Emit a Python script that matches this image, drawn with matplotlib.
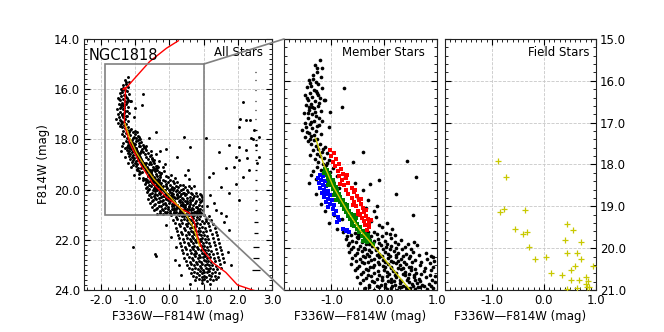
import numpy as np
import matplotlib
matplotlib.use('Agg')
import matplotlib.pyplot as plt
from matplotlib.ticker import MultipleLocator, FormatStrFormatter
from matplotlib.patches import Rectangle, ConnectionPatch

# ---------------- data (colour F336W-F814W, magnitude F814W) ----------------
member_black = [
    (-1.22,15.50),(-1.31,15.62),(-1.18,15.70),(-1.27,15.78),(-1.35,15.85),(-1.20,15.92),(-1.42,15.98),(-1.30,16.02),
    (-1.25,16.08),(-1.38,16.12),(-1.46,16.15),(-1.18,16.18),(-1.33,16.22),(-1.41,16.28),(-1.27,16.30),(-1.50,16.35),
    (-1.36,16.38),(-1.22,16.42),(-1.44,16.45),(-1.31,16.48),(-1.15,16.46),(-1.39,16.55),(-1.48,16.58),(-1.26,16.60),
    (-1.34,16.65),(-1.42,16.70),(-1.20,16.72),(-1.52,16.78),(-1.37,16.80),(-1.29,16.85),(-1.45,16.90),(-1.33,16.95),
    (-1.40,17.02),(-1.24,17.05),(-1.48,17.10),(-1.36,17.12),(-1.55,17.18),(-1.30,17.20),(-1.43,17.25),(-1.20,17.28),
    (-1.38,17.32),(-1.50,17.35),(-1.27,17.38),(-1.34,17.42),(-1.44,17.45),
    (-1.40,16.05),(-1.29,16.25),(-1.47,16.40),(-1.24,16.52),(-1.36,16.62),(-1.45,16.76),(-1.23,16.88),(-1.39,16.98),
    (-1.28,17.08),(-1.46,17.22),(-1.33,17.30),(-1.25,16.35),(-1.43,16.62),(-1.32,16.75),(-1.50,17.00),(-1.18,16.95),
    (-1.41,17.38),(-1.35,15.95),(-1.28,15.70),
    (-0.76,16.18),(-0.81,16.62),(-1.02,16.74),(-1.12,16.46),(-1.05,17.10),
    (-1.22,17.50),(-1.30,17.55),(-1.12,17.58),(-1.25,17.62),(-1.35,17.66),(-1.18,17.70),(-1.08,17.72),(-1.28,17.75),
    (-1.21,17.80),(-1.14,17.84),(-1.32,17.88),(-1.05,17.90),(-1.25,17.93),(-1.17,17.98),(-1.10,18.02),(-1.28,18.05),
    (-0.98,18.08),(-1.20,18.12),(-1.35,18.15),(-1.02,18.18),(-1.38,17.52),(-1.16,17.64),(-1.40,17.78),(-1.08,17.96),
    (-0.59,17.93),(0.44,17.92),(0.60,18.29),(-0.27,18.47),(-0.09,18.37),(0.23,18.71),(-0.14,19.00),(0.55,19.20),(-0.40,17.70),
    (-1.38,18.25),(-1.30,18.35),(-0.75,18.30),(-0.55,18.45),(-1.42,18.45),(-0.85,18.55),(-0.40,18.60),(-1.30,18.70),
    (-0.50,18.80),(-0.30,18.85),(-1.20,18.95),(-0.35,19.05),(-0.20,19.10),(-0.95,19.20),(-0.15,19.25),(-0.25,19.35),
    (-1.05,19.40),(-0.10,19.45),(-0.05,19.50),(0.05,19.40),(-0.62,19.45),(-0.90,19.55),(0.15,19.55),(-0.70,19.60),
    (-0.98,18.40),(-0.90,18.28),(-1.12,19.10),(-0.80,19.30),(-0.60,19.25),
    (-0.78,19.62),(-0.63,19.68),(-0.56,19.64),(-0.47,19.70),(-0.41,19.66),(-0.31,19.61),(-0.26,19.72),(-0.13,19.67),(0.03,19.63),(0.21,19.69),
    (-0.73,19.78),(-0.61,19.82),(-0.49,19.76),(-0.43,19.85),(-0.34,19.80),(-0.29,19.77),(-0.19,19.84),(-0.11,19.79),(0.01,19.83),(0.13,19.75),(0.31,19.81),(0.56,19.86),
    (-0.69,19.92),(-0.59,19.97),(-0.46,19.94),(-0.39,19.99),(-0.29,19.91),(-0.23,19.96),(-0.14,20.00),(-0.07,19.93),(0.04,19.98),(0.13,19.95),(0.26,19.90),(0.39,19.97),(0.63,19.93),
    (-0.67,20.08),(-0.51,20.12),(-0.43,20.06),(-0.32,20.14),(-0.25,20.10),(-0.15,20.05),(-0.09,20.13),(0.01,20.09),(0.07,20.15),(0.18,20.07),(0.27,20.11),(0.41,20.14),(0.54,20.08),(0.79,20.12),
    (-0.61,20.23),(-0.46,20.27),(-0.37,20.21),(-0.26,20.29),(-0.19,20.25),(-0.09,20.22),(-0.03,20.28),(0.07,20.24),(0.13,20.30),(0.23,20.20),(0.31,20.26),(0.46,20.23),(0.59,20.29),(0.81,20.25),(0.93,20.21),
    (-0.63,20.38),(-0.47,20.42),(-0.39,20.36),(-0.27,20.44),(-0.20,20.40),(-0.09,20.37),(-0.03,20.43),(0.07,20.39),(0.13,20.45),(0.23,20.35),(0.30,20.41),(0.41,20.38),(0.51,20.44),(0.67,20.40),(0.86,20.36),
    (-0.56,20.53),(-0.41,20.57),(-0.31,20.51),(-0.19,20.59),(-0.12,20.55),(-0.01,20.52),(0.06,20.58),(0.16,20.54),(0.22,20.60),(0.32,20.50),(0.39,20.56),(0.51,20.53),(0.61,20.59),(0.76,20.55),(0.89,20.51),
    (-0.51,20.68),(-0.35,20.72),(-0.26,20.66),(-0.13,20.74),(-0.05,20.70),(0.06,20.67),(0.13,20.73),(0.23,20.69),(0.29,20.75),(0.39,20.65),(0.45,20.71),(0.56,20.68),(0.65,20.74),(0.79,20.70),(0.96,20.66),
    (-0.46,20.83),(-0.29,20.87),(-0.19,20.81),(-0.06,20.89),(0.02,20.85),(0.13,20.82),(0.20,20.88),(0.30,20.84),(0.36,20.90),(0.46,20.80),(0.52,20.86),(0.63,20.83),(0.71,20.89),(0.85,20.85),(0.97,20.81),
    (-0.36,20.96),(-0.19,20.99),(-0.09,20.94),(0.05,20.98),(0.13,20.95),(0.25,20.99),(0.32,20.93),(0.43,20.97),(0.49,20.96),(0.59,20.98),(0.67,20.94),(0.81,20.97),(0.93,20.95),
    (-0.52,19.74),(-0.38,19.73),(-0.22,19.88),(-0.35,19.89),(-0.16,20.03),(-0.02,20.02),(-0.28,20.04),(-0.05,20.18),(0.10,20.19),
    (-0.14,20.17),(0.02,20.33),(0.17,20.34),(-0.11,20.32),(0.12,20.48),(0.27,20.47),(0.01,20.46),(0.21,20.63),(0.35,20.62),
    (0.09,20.61),(0.31,20.78),(0.44,20.77),(0.18,20.79),(0.41,20.92),(0.55,20.91),(0.28,20.93),
    (-0.70,19.70),(-0.50,19.67),(-0.35,19.64),(-0.20,19.62),(-0.05,19.71),(0.10,19.66),
    (-0.66,19.88),(-0.53,19.86),(-0.10,19.87),(0.06,19.90),(0.20,19.86),(0.45,19.89),
    (-0.63,20.02),(-0.49,20.01),(-0.37,20.03),(0.10,20.02),(0.22,20.00),(0.33,20.03),(0.50,20.01),
    (-0.56,20.17),(-0.41,20.19),(-0.28,20.18),(0.22,20.17),(0.35,20.19),(0.48,20.18),(0.66,20.16),(0.88,20.18),
    (-0.54,20.31),(-0.42,20.33),(-0.31,20.34),(0.26,20.31),(0.38,20.33),(0.52,20.32),(0.70,20.34),(0.95,20.31),
    (-0.52,20.47),(-0.34,20.49),(-0.22,20.46),(0.36,20.48),(0.46,20.46),(0.59,20.49),(0.77,20.47),(0.93,20.45),
    (-0.44,20.62),(-0.30,20.64),(-0.10,20.63),(0.46,20.61),(0.56,20.64),(0.70,20.62),(0.86,20.63),
    (-0.40,20.77),(-0.23,20.78),(-0.05,20.76),(0.08,20.78),(0.58,20.77),(0.68,20.79),(0.90,20.77),
    (-0.28,20.92),(-0.13,20.91),(0.02,20.93),(0.14,20.91),(0.64,20.92),(0.75,20.91),(0.88,20.90),
]

member_red = [
    (-1.02,17.65),(-0.95,17.72),(-1.00,17.80),(-0.92,17.86),(-0.97,17.93),(-0.86,17.98),(-0.93,18.04),(-0.82,18.10),
    (-0.88,18.16),(-0.78,18.22),(-0.85,18.28),(-0.72,18.33),(-0.80,18.38),(-0.68,18.44),(-0.76,18.50),(-0.62,18.55),
    (-0.72,18.60),(-0.58,18.66),(-0.68,18.70),(-0.52,18.75),(-0.62,18.80),(-0.48,18.86),(-0.57,18.90),(-0.45,18.95),
    (-0.53,19.00),(-0.40,19.05),(-0.49,19.10),(-0.38,19.14),(-0.46,19.18),(-0.35,19.22),(-0.42,19.27),(-0.31,19.31),
    (-0.39,19.36),(-0.29,19.40),(-0.36,19.45),(-0.28,19.50),(-0.33,19.56),(-0.70,18.25),(-0.55,18.62),(-0.44,18.83),
    (-0.34,19.08),(-0.26,19.33),(-0.84,18.47),(-0.60,18.97),(-0.50,19.20),
]

member_blue = [
    (-1.22,18.24),(-1.16,18.28),(-1.25,18.32),(-1.19,18.36),(-1.13,18.40),(-1.23,18.44),(-1.17,18.48),(-1.10,18.52),
    (-1.21,18.56),(-1.14,18.60),(-1.07,18.63),(-1.18,18.67),(-1.10,18.71),(-1.03,18.74),(-1.14,18.78),(-1.06,18.82),
    (-0.99,18.86),(-1.10,18.90),(-1.02,18.94),(-0.95,18.98),(-1.06,19.02),(-0.98,19.06),(-0.92,19.12),(-0.96,19.18),
    (-0.88,19.26),(-0.85,19.32),(-0.90,19.38),(-0.78,19.55),(-0.72,19.58),(-0.67,19.61),(-0.70,19.56),
]

member_green = [
    (-1.13,18.10),(-1.08,18.14),(-1.12,18.18),(-1.05,18.22),(-1.09,18.26),(-1.03,18.30),(-1.07,18.34),(-0.99,18.38),
    (-1.04,18.42),(-0.96,18.46),(-1.00,18.50),(-0.92,18.54),(-0.97,18.58),(-0.89,18.62),(-0.94,18.66),(-0.86,18.70),
    (-0.91,18.74),(-0.83,18.78),(-0.88,18.82),(-0.79,18.86),(-0.84,18.90),(-0.75,18.94),(-0.80,18.98),(-0.71,19.02),
    (-0.77,19.06),(-0.67,19.10),(-0.72,19.14),(-0.63,19.18),(-0.69,19.22),(-0.59,19.26),(-0.65,19.30),(-0.55,19.34),
    (-0.61,19.38),(-0.51,19.42),(-0.57,19.46),(-0.46,19.50),(-0.52,19.54),(-0.41,19.58),(-0.47,19.62),(-0.36,19.66),
    (-0.42,19.70),(-0.31,19.74),(-0.37,19.78),(-0.27,19.82),(-0.33,19.86),(-0.22,19.90),(-1.15,18.20),(-1.07,18.48),
    (-0.95,18.72),(-0.70,18.96),(-0.58,19.20),(-0.62,19.44),(-0.30,19.68),(-0.40,19.84),(-0.97,18.36),(-0.92,18.84),
    (-0.53,19.28),
]

field_stars = [
    (-0.88,17.92),(-0.735,18.29),(-0.84,19.13),(-0.77,19.07),(-0.36,19.09),(-0.55,19.53),(-0.40,19.65),(-0.32,19.62),
    (-0.28,19.98),(-0.165,20.25),(0.046,20.22),(0.14,20.60),(0.35,20.63),(0.45,19.42),(0.565,19.56),(0.40,19.80),
    (0.44,20.12),(0.63,20.12),(0.71,19.85),(0.71,20.27),(0.60,20.42),(0.52,20.52),(0.95,20.43),(0.52,20.76),
    (0.67,20.76),(0.81,20.68),(0.84,20.78),(0.80,20.86),(0.82,20.94),(0.63,20.96),(0.44,20.98),(0.86,20.92),
]

lower_ms = [
    (0.05,21.03),(0.18,21.08),(0.28,21.02),(0.36,21.07),(0.44,21.04),(0.51,21.09),(0.58,21.01),(0.65,21.06),(0.72,21.03),(0.80,21.08),(0.90,21.05),(1.02,21.02),(1.15,21.07),
    (0.10,21.22),(0.22,21.17),(0.33,21.21),(0.42,21.16),(0.50,21.23),(0.57,21.18),(0.64,21.20),(0.70,21.15),(0.77,21.22),(0.85,21.19),(0.95,21.24),(1.08,21.17),(1.22,21.21),
    (0.15,21.33),(0.28,21.38),(0.38,21.32),(0.47,21.37),(0.55,21.34),(0.62,21.39),(0.69,21.31),(0.75,21.36),(0.82,21.33),(0.90,21.38),(1.00,21.35),(1.12,21.32),(1.28,21.37),
    (0.20,21.52),(0.32,21.47),(0.42,21.51),(0.51,21.46),(0.59,21.53),(0.66,21.48),(0.72,21.50),(0.79,21.45),(0.86,21.52),(0.94,21.49),(1.04,21.54),(1.16,21.47),(1.32,21.51),
    (0.22,21.63),(0.35,21.68),(0.45,21.62),(0.54,21.67),(0.62,21.64),(0.69,21.69),(0.76,21.61),(0.83,21.66),(0.90,21.63),(0.98,21.68),(1.08,21.65),(1.20,21.62),(1.36,21.67),
    (0.25,21.82),(0.38,21.77),(0.48,21.81),(0.57,21.76),(0.65,21.83),(0.72,21.78),(0.79,21.80),(0.86,21.75),(0.93,21.82),(1.01,21.79),(1.11,21.84),(1.24,21.77),(1.40,21.81),
    (0.28,21.93),(0.40,21.98),(0.51,21.92),(0.60,21.97),(0.68,21.94),(0.75,21.99),(0.82,21.91),(0.89,21.96),(0.96,21.93),(1.04,21.98),(1.14,21.95),(1.27,21.92),(1.42,21.97),
    (0.30,22.12),(0.43,22.07),(0.53,22.11),(0.62,22.06),(0.70,22.13),(0.78,22.08),(0.85,22.10),(0.92,22.05),(0.99,22.12),(1.07,22.09),(1.17,22.14),(1.30,22.07),(1.46,22.11),
    (0.33,22.23),(0.46,22.28),(0.56,22.22),(0.65,22.27),(0.73,22.24),(0.81,22.29),(0.88,22.21),(0.95,22.26),(1.02,22.23),(1.10,22.28),(1.20,22.25),(1.33,22.22),(1.48,22.27),
    (0.36,22.42),(0.49,22.37),(0.59,22.41),(0.68,22.36),(0.76,22.43),(0.84,22.38),(0.91,22.40),(0.98,22.35),(1.05,22.42),(1.13,22.39),(1.23,22.44),(1.36,22.37),(1.52,22.41),
    (0.40,22.53),(0.52,22.58),(0.62,22.52),(0.71,22.57),(0.79,22.54),(0.87,22.59),(0.94,22.51),(1.01,22.56),(1.08,22.53),(1.16,22.58),(1.26,22.55),(1.40,22.52),(1.55,22.57),
    (0.44,22.72),(0.56,22.67),(0.66,22.71),(0.75,22.66),(0.83,22.73),(0.90,22.68),(0.97,22.70),(1.04,22.65),(1.11,22.72),(1.19,22.69),(1.29,22.74),(1.42,22.67),(1.58,22.71),
    (0.48,22.83),(0.60,22.88),(0.70,22.82),(0.78,22.87),(0.86,22.84),(0.93,22.89),(1.00,22.81),(1.07,22.86),(1.14,22.83),(1.22,22.88),(1.32,22.85),(1.45,22.82),(1.60,22.87),
    (0.52,23.02),(0.64,22.97),(0.73,23.01),(0.81,22.96),(0.89,23.03),(0.96,22.98),(1.03,23.00),(1.10,22.95),(1.17,23.02),(1.25,22.99),(1.35,23.04),(1.48,22.97),
    (0.56,23.13),(0.67,23.18),(0.76,23.12),(0.84,23.17),(0.92,23.14),(0.99,23.19),(1.06,23.11),(1.13,23.16),(1.20,23.13),(1.28,23.18),(1.38,23.15),(1.52,23.12),
    (0.62,23.32),(0.72,23.27),(0.80,23.31),(0.88,23.26),(0.95,23.33),(1.02,23.28),(1.09,23.30),(1.16,23.25),(1.24,23.32),(1.33,23.29),(1.45,23.34),
    (0.68,23.43),(0.78,23.48),(0.86,23.42),(0.94,23.47),(1.01,23.44),(1.08,23.49),(1.15,23.41),(1.23,23.46),(1.32,23.43),(1.42,23.48),
    (0.75,23.62),(0.85,23.57),(0.94,23.61),(1.02,23.56),(1.10,23.63),(1.18,23.58),(1.27,23.60),(1.36,23.55),
    (0.60,23.75),(0.95,23.72),(1.20,23.78),(0.20,22.30),(0.05,21.90),(1.75,21.60),(1.70,22.50),(1.80,23.00),
    (0.35,23.40),(1.60,21.30),(-0.10,21.40),
]

left_scatter = [
    (-1.06,22.27),(-0.43,22.57),(-0.38,22.65),(0.15,22.80),(0.29,23.00),(2.14,16.50),(2.06,17.20),(2.35,17.23),
    (2.48,17.63),(2.62,17.90),(2.43,18.00),(2.04,18.29),(2.23,18.42),(2.53,18.22),(2.28,18.75),(1.94,18.69),
    (1.75,18.22),(1.65,19.15),(2.14,19.49),(1.94,19.76),(2.33,19.22),(2.57,18.95),(1.51,19.88),(1.75,20.15),
    (1.26,19.35),(1.07,17.96),(1.16,19.49),(1.51,20.94),(1.31,20.55),(2.04,20.42),(1.65,21.07),(1.07,21.27),
    (2.38,17.96),(2.23,17.23),(2.04,17.50),(2.62,18.69),(2.04,18.82),(1.89,19.09),(1.20,20.20),(1.35,20.80),
    (1.10,20.65),(1.45,18.50),
]

# isochrone (red) and fiducial line (yellow)
iso_x = [0.26, -0.09, -0.58, -1.04, -1.22, -1.36, -1.27, -1.29, -1.31, -1.32, -1.28, -1.16, -0.87, -0.49,
         -0.09, 0.39, 0.58, 0.73, 0.83, 0.97, 1.26, 1.65, 1.99, 2.43, 2.70]
iso_y = [14.07, 14.37, 14.90, 15.60, 15.88, 16.00, 15.95, 16.10, 16.70, 17.30, 17.60, 18.15, 18.95, 19.75,
         20.30, 20.80, 20.93, 21.30, 21.90, 22.40, 22.90, 23.30, 23.80, 24.00, 24.10]
fid_x = [-1.30, -1.155, -0.965, -0.71, -0.46, -0.14, 0.17, 0.49, 0.70, 0.82, 0.88]
fid_y = [17.37, 17.97, 18.53, 19.09, 19.57, 20.04, 20.52, 21.00, 21.50, 22.00, 22.25]

# representative photometric errors
err_y = [15.30, 15.63, 16.03, 16.46, 16.83, 17.20, 17.63, 18.02, 18.42, 18.82, 19.22, 19.62, 20.02,
         20.41, 20.81, 21.28, 21.74, 22.27, 22.74, 23.20]
err_x = [0.015, 0.015, 0.015, 0.015, 0.015, 0.015, 0.02, 0.02, 0.02, 0.02, 0.025, 0.03, 0.03,
         0.035, 0.04, 0.05, 0.06, 0.09, 0.10, 0.11]
err_col = 2.53

# ---------------- figure ----------------
def arr(pairs):
    a = np.array(pairs, dtype=float)
    return a[:, 0], a[:, 1]

mbx, mby = arr(member_black)
mrx, mry = arr(member_red)
mbbx, mbby = arr(member_blue)
mgx, mgy = arr(member_green)
fx, fy = arr(field_stars)
lx, ly = arr(lower_ms)
sx, sy = arr(left_scatter)

all_x = np.concatenate([mbx, mrx, mbbx, mgx, fx, lx, sx])
all_y = np.concatenate([mby, mry, mbby, mgy, fy, ly, sy])

fig = plt.figure(figsize=(6.64, 3.32), dpi=100)
fig.patch.set_facecolor('white')
bottom, height = 42 / 332, 251 / 332
ax1 = fig.add_axes([84 / 664, bottom, 188 / 664, height])
ax2 = fig.add_axes([284 / 664, bottom, 153 / 664, height])
ax3 = fig.add_axes([445 / 664, bottom, 151 / 664, height])

FS = 8.5

def style(ax, xmaj, xmin, ymaj, ymin):
    ax.xaxis.set_major_locator(MultipleLocator(xmaj))
    ax.xaxis.set_minor_locator(MultipleLocator(xmin))
    ax.yaxis.set_major_locator(MultipleLocator(ymaj))
    ax.yaxis.set_minor_locator(MultipleLocator(ymin))
    ax.xaxis.set_major_formatter(FormatStrFormatter('%.1f'))
    ax.yaxis.set_major_formatter(FormatStrFormatter('%.1f'))
    ax.tick_params(which='both', direction='in', top=True, right=True, labelsize=FS, pad=3)
    ax.tick_params(which='major', length=4.5, width=0.8)
    ax.tick_params(which='minor', length=2.2, width=0.6)
    ax.grid(True, which='major', ls='--', color='#c8c8c8', lw=0.6)
    ax.set_axisbelow(True)
    for sp in ax.spines.values():
        sp.set_color('#222222')
        sp.set_linewidth(0.8)

# left panel: all stars
ax1.scatter(all_x, all_y, s=4.5, c='black', marker='o', linewidths=0, zorder=2)
ax1.plot(iso_x, iso_y, color='red', lw=1.0, zorder=3)
ax1.plot(fid_x, fid_y, color='#f0c000', lw=1.0, alpha=0.9, zorder=4)
ax1.errorbar([err_col] * len(err_y), err_y, xerr=err_x, fmt='none', ecolor='black',
             elinewidth=0.9, capsize=0, zorder=3)
ax1.add_patch(Rectangle((-1.9, 15.0), 2.9, 6.0, fill=False, edgecolor='#808080', lw=1.2, zorder=5))
ax1.set_xlim(-2.5, 3.0)
ax1.set_ylim(24.0, 14.0)
style(ax1, 1.0, 0.2, 2.0, 0.2)
ax1.set_xlabel('F336W\u2014F814W (mag)', fontsize=FS, labelpad=2)
ax1.set_ylabel('F814W (mag)', fontsize=FS, labelpad=3)
ax1.text(0.025, 0.935, 'NGC1818', transform=ax1.transAxes, fontsize=10.5, va='center', ha='left')
ax1.text(0.95, 0.948, 'All Stars', transform=ax1.transAxes, fontsize=FS, va='center', ha='right')

# middle panel: member stars
ax2.scatter(mbx, mby, s=7, c='black', marker='o', linewidths=0, zorder=2)
ax2.scatter(mrx, mry, s=6, c='red', marker='s', linewidths=0, zorder=3)
ax2.scatter(mbbx, mbby, s=6, c='blue', marker='s', linewidths=0, zorder=3)
ax2.scatter(mgx, mgy, s=6, c='green', marker='s', linewidths=0, zorder=3)
ax2.plot(fid_x, fid_y, color='#cccc00', lw=1.0, zorder=4)
ax2.set_xlim(-1.9, 1.0)
ax2.set_ylim(21.0, 15.0)
style(ax2, 1.0, 0.1, 1.0, 0.2)
ax2.tick_params(labelleft=False)
ax2.set_xlabel('F336W\u2014F814W (mag)', fontsize=FS, labelpad=2)
ax2.text(0.92, 0.945, 'Member Stars', transform=ax2.transAxes, fontsize=FS, va='center', ha='right')

# right panel: field stars
ax3.plot(fx, fy, ls='none', marker='+', ms=4, mew=0.9, color='#c8c800', zorder=3)
ax3.set_xlim(-1.9, 1.0)
ax3.set_ylim(21.0, 15.0)
style(ax3, 1.0, 0.1, 1.0, 0.2)
ax3.tick_params(labelleft=False, labelright=True)
ax3.set_xlabel('F336W\u2014F814W (mag)', fontsize=FS, labelpad=2)
ax3.text(0.955, 0.945, 'Field Stars', transform=ax3.transAxes, fontsize=FS, va='center', ha='right')

# zoom connector lines
for yv in (15.0, 21.0):
    con = ConnectionPatch(xyA=(1.0, yv), coordsA=ax1.transData, xyB=(-1.9, yv), coordsB=ax2.transData,
                          color='#808080', lw=1.2, zorder=6)
    fig.add_artist(con)

fig.savefig('out.png', dpi=100, facecolor='white')
